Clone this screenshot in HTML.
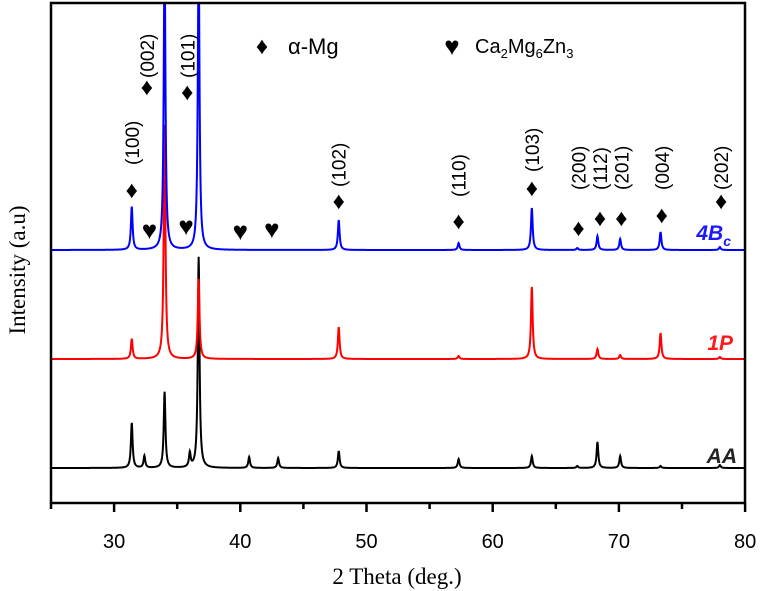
<!DOCTYPE html>
<html><head><meta charset="utf-8"><style>
body{margin:0;background:#fff;}
svg{display:block;font-family:"Liberation Sans",sans-serif;}
</style></head><body>
<svg id="chart" width="762" height="591" viewBox="0 0 762 591">
<defs><clipPath id="pc"><rect x="51" y="3" width="694" height="500"/></clipPath></defs>
<g id="series" clip-path="url(#pc)"></g>
<rect x="51" y="3" width="694" height="500" fill="none" stroke="#000" stroke-width="2.5"/>
<g id="axis"></g>
<text x="397" y="584" text-anchor="middle" font-family="Liberation Serif,serif" font-size="23">2 Theta (deg.)</text>
<text transform="translate(25,270) rotate(-90)" text-anchor="middle" font-family="Liberation Serif,serif" font-size="23">Intensity (a.u)</text>
<g id="ann" font-size="19"></g>
<text x="262" y="54" font-size="24" text-anchor="middle">♦</text>
<text x="288" y="54" font-size="22">α-Mg</text>
<text x="452" y="55" font-size="26" text-anchor="middle">♥</text>
<text x="475" y="53" font-size="20">Ca<tspan font-size="13" dy="5">2</tspan><tspan dy="-5">Mg</tspan><tspan font-size="13" dy="5">6</tspan><tspan dy="-5">Zn</tspan><tspan font-size="13" dy="5">3</tspan></text>
<text x="731" y="240" text-anchor="end" font-size="21" font-weight="bold" font-style="italic" fill="#1a1aff">4B<tspan font-size="14" dy="6">c</tspan></text>
<text x="733" y="350" text-anchor="end" font-size="21" font-weight="bold" font-style="italic" fill="#ff1a1a">1P</text>
<text x="737" y="463" text-anchor="end" font-size="21" font-weight="bold" font-style="italic" fill="#222">AA</text>
</svg>
<script>
const xTicks=[30,40,50,60,70,80];
const peakPos=[31.4,32.4,34.0,36.0,36.7,40.7,43.0,47.8,57.3,63.1,66.7,68.3,70.1,73.3,78.0];
const aaHeights=[45,12,76,14,211,11,10,17,9,12,2,26,12,2,3];
const p1Heights=[20,0,234,0,80,0,0,32,3,72,0,10,4,26,2];
const b4Heights=[43,0,300,0,300,0,0,30,7,42,2,14,11,18,3];
const baselines=[468,359,250];
const colors=["#000","#ff0000","#0000ff"];
const names=["series-aa","series-1p","series-4bc"];
const hkl=[["(100)",31.4,165,190],["(002)",32.6,78,87],["(101)",35.8,78,92],["(102)",47.8,187,201],["(110)",57.3,197,221],["(103)",63.1,172,188],["(200)",66.8,190,228],["(112)",68.5,190,218],["(201)",70.2,190,218],["(004)",73.4,190,215],["(202)",78.1,190,201]];
const hearts=[32.8,35.7,40.0,42.5];
const X=v=>51+(v-25)*12.62;
const NS="http://www.w3.org/2000/svg";
const mk=(t,a,p)=>{const e=document.createElementNS(NS,t);for(const k in a)e.setAttribute(k,a[k]);p.appendChild(e);return e;};
const sg=document.getElementById('series');
[aaHeights,p1Heights,b4Heights].forEach((h,i)=>{
  let d="";
  for(let v=25;v<=80;v+=0.02){
    let y=0;peakPos.forEach((p,j)=>{const w=0.08;y+=h[j]/(1+((v-p)/w)**2);});
    d+=(d?"L":"M")+X(v).toFixed(2)+","+(baselines[i]-y).toFixed(2);
  }
  const e=mk('path',{d:d,fill:"none",stroke:colors[i],"stroke-width":2},sg);
  
  
});
const ax=document.getElementById('axis');
for(let v=25;v<=80;v+=5){
  const t=mk('line',{x1:X(v),x2:X(v),y1:503,y2:v%10===0?512:509,stroke:"#000","stroke-width":2.5},ax);
  
  
}
xTicks.forEach(v=>{
  const t=mk('text',{x:X(v),y:548,"text-anchor":"middle","font-size":20},ax);t.textContent=v;
  
  
});
const an=document.getElementById('ann');
hkl.forEach(([l,v,yb,yd])=>{
  const t=mk('text',{transform:`translate(${X(v)+7},${yb}) rotate(-90)`},an);t.textContent=l;
  
  
  const d=mk('text',{x:X(v),y:yd+8,"text-anchor":"middle","font-size":24},an);d.textContent="♦";
  
  
});
hearts.forEach((v,i)=>{
  const h=mk('text',{x:X(v),y:[239,235,240,238][i],"text-anchor":"middle","font-size":26},an);h.textContent="♥";
  
  
});
</script>
</body></html>
